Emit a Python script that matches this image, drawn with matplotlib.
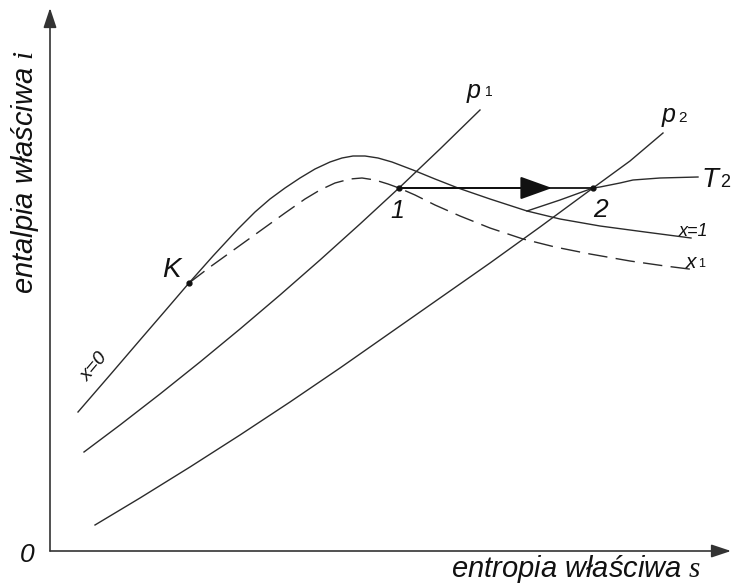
import matplotlib
matplotlib.use("Agg")
import matplotlib.pyplot as plt

# %%
# curve points (s along x, i along y, origin at the axes corner)
sat_s = [28, 60, 90, 115, 139, 163, 188, 205, 220, 235, 250, 265, 280, 292, 303, 315,
         328, 342, 363, 385, 408, 440, 477, 510, 550, 595, 641]
sat_i = [139, 176, 211, 240, 268, 295, 322, 339, 352, 363, 373, 382, 389, 393, 395, 395,
         393, 389, 381, 372, 363, 352, 340, 332, 325, 319, 313]

x1_s = [139, 160, 185, 210, 235, 255, 270, 285, 300, 312, 325, 338, 349, 365, 385, 410,
        440, 473, 505, 540, 580, 615, 647]
x1_i = [268, 284, 302, 320, 338, 352, 361, 368, 372, 373, 371, 367, 363, 356, 346, 335,
        323, 312, 304, 297, 290, 285, 281]

p1_s = [34, 70, 110, 150, 190, 230, 270, 310, 349, 390, 430]
p1_i = [99, 126, 157, 189, 222, 256, 291, 327, 363, 402, 441]

p2_s = [45, 90, 140, 190, 240, 290, 340, 390, 440, 490, 543, 580, 613]
p2_i = [26, 53, 84, 116, 149, 183, 218, 253, 288, 324, 363, 390, 418]

t2_s = [477, 510, 543, 550, 570, 583, 610, 648]
t2_i = [340, 351, 363, 364, 368, 371, 373, 374]

points = {"K": (139, 268), "1": (349, 363), "2": (543, 363)}

# %%
plt.rcParams["font.family"] = ["Liberation Sans", "DejaVu Sans"]
plt.rcParams["mathtext.fontset"] = "custom"
plt.rcParams["mathtext.cal"] = "Liberation Serif:italic"

line_c = "#2b2b2b"
text_c = "#111111"

fig = plt.figure(figsize=(7.33, 5.85), dpi=100)
ax = fig.add_axes([0, 0, 1, 1])
ax.set_xlim(-50, 683)
ax.set_ylim(-34, 551)
ax.axis("off")

# axes with arrows
axis_arrow = dict(arrowstyle="-|>,head_length=1.2,head_width=0.4", mutation_scale=10,
                  lw=1.2, color="#333333", shrinkA=0, shrinkB=0)
ax.annotate("", xy=(0, 543), xytext=(0, 0), arrowprops=axis_arrow)
ax.annotate("", xy=(681, 0), xytext=(0, 0), arrowprops=axis_arrow)

style = dict(color=line_c, lw=1.0, solid_joinstyle="round", dash_joinstyle="round")
ax.plot(sat_s, sat_i, **style)
ax.plot(x1_s, x1_i, dashes=(14, 6), **style)
ax.plot(p1_s, p1_i, **style)
ax.plot(p2_s, p2_i, **style)
ax.plot(t2_s, t2_i, **style)

# process 1 -> 2
s1, i1 = points["1"]
s2, i2 = points["2"]
ax.plot([s1, s2], [i1, i2], color="#222222", lw=1.4)
ax.annotate("", xy=(502, i1), xytext=(s1, i1),
            arrowprops=dict(arrowstyle="-|>,head_length=2.0,head_width=0.72",
                            mutation_scale=10, lw=1.4, color="#111111",
                            shrinkA=0, shrinkB=0))

for name, (s, i) in points.items():
    ax.plot(s, i, "o", ms=3.5, color="#111111")

# labels
it = dict(style="italic", color=text_c)
ax.text(112, 274, "K", fontsize=20, ha="left", va="baseline", **it)
ax.text(347, 333, "1", fontsize=18, ha="center", va="baseline", **it)
ax.text(550, 334, "2", fontsize=19, ha="center", va="baseline", **it)
ax.text(417, 453, "p", fontsize=18, ha="left", va="baseline", **it)
ax.text(435, 455, "1", fontsize=10, ha="left", va="baseline", color=text_c)
ax.text(612, 429, "p", fontsize=18, ha="left", va="baseline", **it)
ax.text(628, 429, "2", fontsize=11, ha="left", va="baseline", color=text_c)
ax.text(652, 364, "T", fontsize=20, ha="left", va="baseline", **it)
ax.text(670, 364, "2", fontsize=13, ha="left", va="baseline", color=text_c)
ax.text(629, 315, "x=1", fontsize=13, ha="left", va="baseline", **it)
ax.text(636, 283, "x", fontsize=15, ha="left", va="baseline", **it)
ax.text(648, 284, "1", fontsize=9, ha="left", va="baseline", color=text_c)
ax.text(45, 184, "x=0", fontsize=14, rotation=50, ha="center", va="center", **it)
ax.text(-23, -4, "0", fontsize=19, ha="center", va="center", **it)

ax.text(526, -26, r"entropia właściwa $\mathcal{s}$", fontsize=21,
        ha="center", va="baseline", **it)
ax.text(-17, 379, r"entalpia właściwa $\mathcal{i}$", fontsize=21, rotation=90,
        rotation_mode="anchor", ha="center", va="baseline", **it)

fig.savefig("out.png", dpi=100)
